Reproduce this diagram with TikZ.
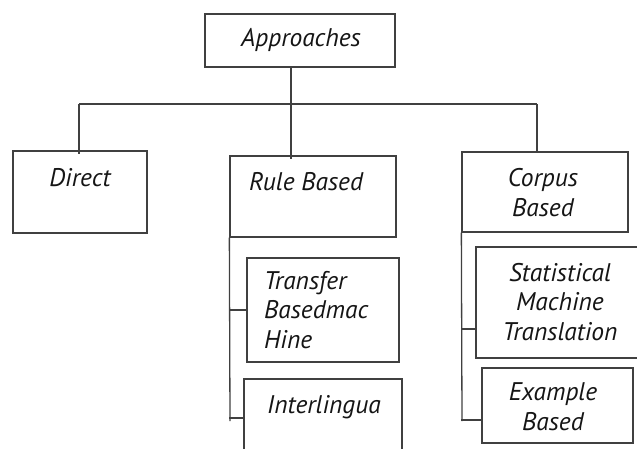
\documentclass[tikz,border=0pt]{standalone}
\usepackage{fontspec}
\setmainfont{PT Sans}
\definecolor{edge}{HTML}{404040}
\definecolor{ink}{HTML}{151515}
\begin{document}
\begin{tikzpicture}[x=1pt,y=-1pt,
  box/.style={draw=edge,line width=1.3pt,rectangle,inner sep=0pt},
  lbl/.style={font=\fontsize{25.5}{29.5}\selectfont\itshape,text=ink,inner sep=0pt},
  link/.style={draw=edge,line width=1.3pt}]
\useasboundingbox (0,0) rectangle (637,448);
\begin{scope}
\clip (0,0) rectangle (637,448);
% boxes
\node[box,minimum width=190pt,minimum height=53pt] (appr) at (300,40.5) {};
\node[box,minimum width=134pt,minimum height=82pt] (direct) at (80,192) {};
\node[box,minimum width=166pt,minimum height=81pt] (rule) at (313,196.5) {};
\node[box,minimum width=166pt,minimum height=80pt] (corpus) at (545,192) {};
\node[box,minimum width=152pt,minimum height=104pt] (transfer) at (323,310) {};
\node[box,minimum width=158pt,minimum height=91pt] (inter) at (323,424.5) {};
\node[box,minimum width=169pt,minimum height=111pt] (stat) at (560.5,302.5) {};
\node[box,minimum width=151pt,minimum height=75pt] (example) at (557.5,405.5) {};
% labels
\node[lbl] at (301,40) {Approaches};
\node[lbl] at (80,178) {Direct};
\node[lbl] at (306,182) {Rule Based};
\node[lbl,align=center] at (543,192.5) {Corpus\\Based};
\node[lbl,align=left,anchor=west] at (264,310) {Transfer\\Basedmac\\Hine};
\node[lbl] at (324,407) {Interlingua};
\node[lbl,align=center] at (560,302) {Statistical\\Machine\\Translation};
\node[lbl,align=center] at (553,406.5) {Example\\Based};
% tree connectors
\coordinate (hub) at (291,104);
\coordinate (barL) at (79,104);
\coordinate (barR) at (537,104);
\coordinate (ruleEnd) at (230,421);
\coordinate (corpEnd) at (462,421);
\draw[link] (appr.south -| hub) -- (hub);
\draw[link] (barL) -- (barR);
\draw[link] (barL) -- ([yshift=-4pt]barL |- direct.north);
\draw[link] (hub) -- ([yshift=-4pt]hub |- rule.north);
\draw[link] (barR) -- (barR |- corpus.north);
\draw[link] (rule.south west) -- (ruleEnd);
\draw[link] (rule.south west |- transfer.west) -- (transfer.west);
\draw[link] (rule.south west |- 0,418) -- (inter.west |- 0,418);
\draw[link] (corpus.south west) -- (corpEnd);
\draw[link] (corpus.south west |- 0,329) -- (stat.west |- 0,329);
\draw[link] (corpus.south west |- 0,420) -- (example.west |- 0,420);
\end{scope}
\end{tikzpicture}
\end{document}
